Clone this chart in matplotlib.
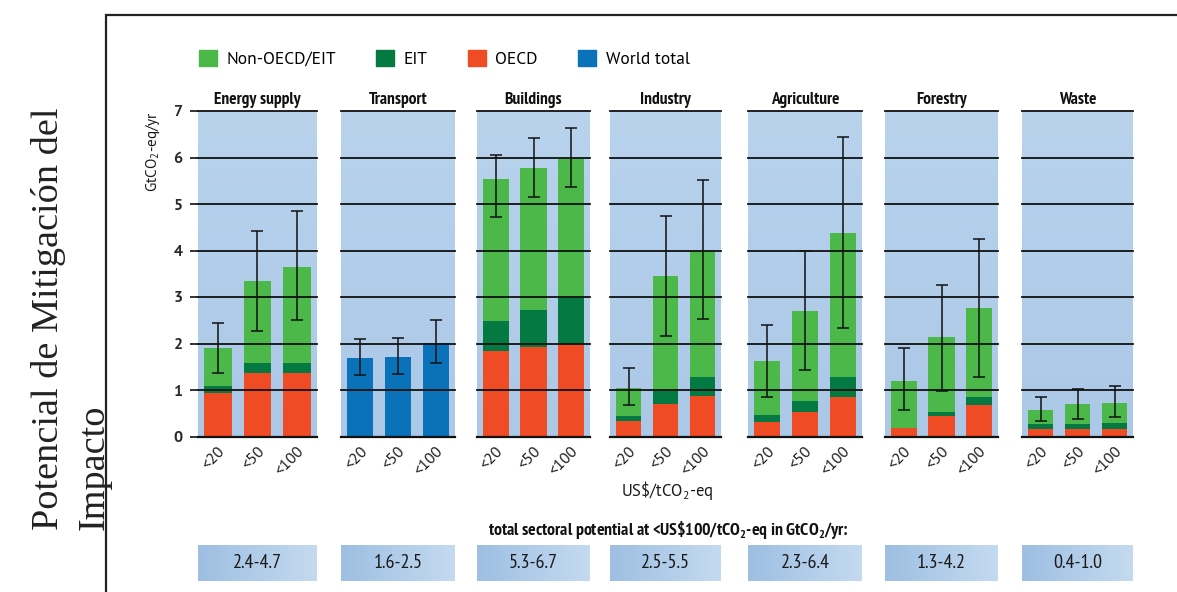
import matplotlib
matplotlib.use("Agg")
import matplotlib.pyplot as plt
import numpy as np
from matplotlib import font_manager as fm
from matplotlib.colors import LinearSegmentedColormap
from matplotlib.patches import Patch, Rectangle
import matplotlib.transforms as mtrans

# data
sectors = ["Energy supply", "Transport", "Buildings", "Industry",
           "Agriculture", "Forestry", "Waste"]
price_labels = ["<20", "<50", "<100"]

# stacked segments (GtCO2-eq/yr); Transport only has a world total
oecd = [[0.93, 1.37, 1.37], None, [1.84, 1.93, 2.00], [0.34, 0.70, 0.88],
        [0.31, 0.52, 0.86], [0.18, 0.45, 0.68], [0.16, 0.16, 0.16]]
eit = [[0.15, 0.21, 0.21], None, [0.64, 0.79, 0.98], [0.10, 0.32, 0.41],
       [0.16, 0.25, 0.43], [0.01, 0.07, 0.18], [0.11, 0.11, 0.13]]
non_oecd = [[0.82, 1.76, 2.07], None, [3.05, 3.05, 2.99], [0.61, 2.43, 2.70],
            [1.15, 1.92, 3.08], [1.01, 1.61, 1.90], [0.30, 0.43, 0.44]]
world_total = [1.69, 1.72, 2.02]

err_low = [[1.37, 2.27, 2.50], [1.32, 1.35, 1.58], [4.73, 5.14, 5.36],
           [0.67, 2.17, 2.53], [0.84, 1.43, 2.33], [0.56, 0.97, 1.27],
           [0.33, 0.38, 0.41]]
err_high = [[2.45, 4.43, 4.86], [2.10, 2.12, 2.50], [6.06, 6.42, 6.63],
            [1.48, 4.75, 5.51], [2.40, 3.98, 6.45], [1.90, 3.26, 4.25],
            [0.84, 1.02, 1.08]]

totals = ["2.4-4.7", "1.6-2.5", "5.3-6.7", "2.5-5.5", "2.3-6.4", "1.3-4.2", "0.4-1.0"]

# colours
c_non = "#4cb84a"
c_eit = "#047a42"
c_oecd = "#ef4b24"
c_world = "#0a72b8"

names = {f.name for f in fm.fontManager.ttflist}


def pick(options, default):
    for o in options:
        if o in names:
            return o
    return default


narrow = pick(["PT Sans Narrow", "Fira Sans Condensed", "Roboto Condensed",
               "Encode Sans Condensed", "Archivo Narrow", "Asap Condensed",
               "Liberation Sans Narrow"], "Roboto")
regular = pick(["PT Sans", "Fira Sans"], "Open Sans")

plt.rcParams["font.family"] = [regular, "DejaVu Sans"]
plt.rcParams["mathtext.fontset"] = "custom"
plt.rcParams["mathtext.rm"] = regular
plt.rcParams["mathtext.bf"] = narrow + ":bold"

W, H = 1177, 592
fig = plt.figure(figsize=(W / 100, H / 100), dpi=100)


def px(l, t, w, h):
    return [l / W, 1 - (t + h) / H, w / W, h / H]


panel_cmap = LinearSegmentedColormap.from_list("pbg", ["#abc8e7", "#b9d3ed"])
box_cmap = LinearSegmentedColormap.from_list("bbg", ["#9ebfe2", "#c4daf0"])

panel_left = [198, 341, 477, 610, 748, 885, 1022]
panel_w = [119, 114, 113, 111, 114, 113, 111]
x = np.arange(3) + 0.5

for i, sec in enumerate(sectors):
    ax = fig.add_axes(px(panel_left[i], 111, panel_w[i], 325.5))
    grad = np.linspace(0, 1, 100).reshape(-1, 1)
    ax.imshow(grad, extent=(0, 3, 0, 7), origin="lower", aspect="auto",
              cmap=panel_cmap, zorder=0)
    if oecd[i] is None:
        ax.bar(x, world_total, 0.7, color=c_world, zorder=2)
    else:
        ax.bar(x, oecd[i], 0.7, color=c_oecd, zorder=2)
        ax.bar(x, eit[i], 0.7, bottom=oecd[i], color=c_eit, zorder=2)
        b2 = np.array(oecd[i]) + np.array(eit[i])
        ax.bar(x, non_oecd[i], 0.7, bottom=b2, color=c_non, zorder=2)
    lo = np.array(err_low[i])
    hi = np.array(err_high[i])
    mid = (lo + hi) / 2
    ax.errorbar(x, mid, yerr=(hi - lo) / 2, fmt="none", ecolor="#111111",
                elinewidth=1.1, capsize=4, capthick=1.1, zorder=4)
    for k in range(0, 8):
        ax.axhline(k, color="#111111", lw=1.3 if k else 1.6, zorder=3, clip_on=False)
    ax.set_xlim(0, 3)
    ax.set_ylim(0, 7)
    for s in ax.spines.values():
        s.set_visible(False)
    ax.set_title(sec, fontsize=12.5, fontweight="bold", family=narrow,
                 pad=5, color="#111111")
    ax.set_xticks(x)
    ax.set_xticklabels(price_labels, rotation=45, ha="right", va="center",
                       rotation_mode="anchor", fontsize=11.5, color="#1a1a1a")
    ax.tick_params(axis="x", length=0, pad=9)
    off = mtrans.ScaledTranslation(5 / 100, 0, fig.dpi_scale_trans)
    for lab in ax.get_xticklabels():
        lab.set_transform(lab.get_transform() + off)
    if i == 0:
        ax.set_yticks(range(8))
        ax.tick_params(axis="y", length=6, width=1.2, color="#111111",
                       labelsize=11.5, pad=5, labelcolor="#2a2a2a")
        for lab in ax.get_yticklabels():
            lab.set_fontweight("bold")
    else:
        ax.set_yticks([])

    # box with the total sectoral potential
    bx = fig.add_axes(px(panel_left[i], 545, panel_w[i], 36))
    gx = np.linspace(0, 1, 100).reshape(1, -1)
    bx.imshow(gx, extent=(0, 1, 0, 1), aspect="auto", cmap=box_cmap)
    bx.set_axis_off()
    bx.text(0.5, 0.5, totals[i], ha="center", va="center", fontsize=14.5,
            family=narrow, color="#1a1a1a")

fig.text(153 / W, 1 - 151 / H, "GtCO$_2$-eq/yr", rotation=90, ha="center",
         va="center", fontsize=11, color="#1a1a1a")

handles = [Patch(color=c_non, label="Non-OECD/EIT"),
           Patch(color=c_eit, label="EIT"),
           Patch(color=c_oecd, label="OECD"),
           Patch(color=c_world, label="World total")]
fig.legend(handles=handles, loc="center left", bbox_to_anchor=(183 / W, 1 - 59 / H),
           ncol=4, frameon=False, fontsize=12.5, handlelength=1.05, handleheight=1.05,
           handletextpad=0.55, columnspacing=2.3)

fig.text(667 / W, 1 - 490 / H, r"US\$/tCO$_2$-eq", ha="center", va="center",
         fontsize=12, color="#1a1a1a")
fig.text(668 / W, 1 - 530 / H,
         r"total sectoral potential at <US\$100/tCO$_\mathbf{2}$-eq in GtCO$_\mathbf{2}$/yr:",
         ha="center", va="center", fontsize=12.8, fontweight="bold", family=narrow,
         color="#111111")

# side title
fig.text(58 / W, 1 - 530 / H, "Potencial de Mitigación del", rotation=90,
         rotation_mode="anchor", ha="left", va="baseline", fontsize=27.5,
         family=["Liberation Serif", "DejaVu Serif"], color="#222222")
fig.text(104 / W, 1 - 530 / H, "Impacto", rotation=90,
         rotation_mode="anchor", ha="left", va="baseline", fontsize=27.5,
         family=["Liberation Serif", "DejaVu Serif"], color="#222222")

# frame around the figure
fig.add_artist(Rectangle((106 / W, -0.1), 1.2, 1 - 15 / H + 0.1,
                         transform=fig.transFigure, fill=False,
                         lw=1.6, ec="#222222", clip_on=False))

fig.savefig("out.png", dpi=100, facecolor="white")
